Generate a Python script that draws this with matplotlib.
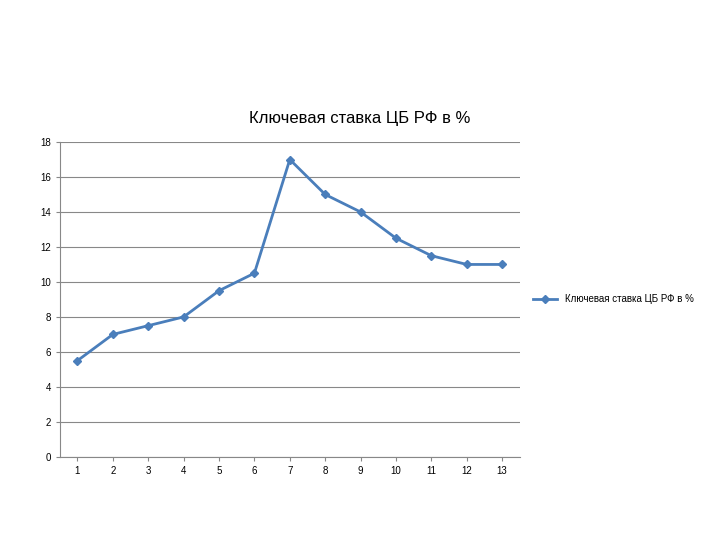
import matplotlib
matplotlib.use("Agg")
import matplotlib.pyplot as plt

x_labels = [str(i) for i in range(1, 14)]
values = [5.5, 7, 7.5, 8, 9.5, 10.5, 17, 15, 14, 12.5, 11.5, 11, 11]
series_name = "Ключевая ставка ЦБ РФ в %"

plt.rcParams['font.family'] = ['Liberation Sans', 'DejaVu Sans']
fig = plt.figure(figsize=(7.2, 5.4), dpi=100)
ax = fig.add_axes([0.083, 0.154, 0.639, 0.583])
xs = list(range(len(values)))
ax.plot(xs, values, color='#4a7ebb', lw=2, marker='D', ms=4, label=series_name)
ax.set_xlim(-0.5, len(values) - 0.5)
ax.set_ylim(0, 18)
ax.set_yticks(range(0, 19, 2))
ax.set_xticks(xs)
ax.set_xticklabels(x_labels)
ax.tick_params(labelsize=7, length=3, color='#888888')
ax.grid(axis='y', color='#888888', lw=0.8)
ax.set_axisbelow(True)
for s in ['top', 'right']:
    ax.spines[s].set_visible(False)
for s in ['left', 'bottom']:
    ax.spines[s].set_color('#888888')
fig.text(0.5, 0.78, series_name, ha='center', va='center', fontsize=12)
ax.legend(loc='center left', bbox_to_anchor=(1.01, 0.5), frameon=False, fontsize=7,
          handlelength=2.5)
fig.savefig("out.png", dpi=100)
